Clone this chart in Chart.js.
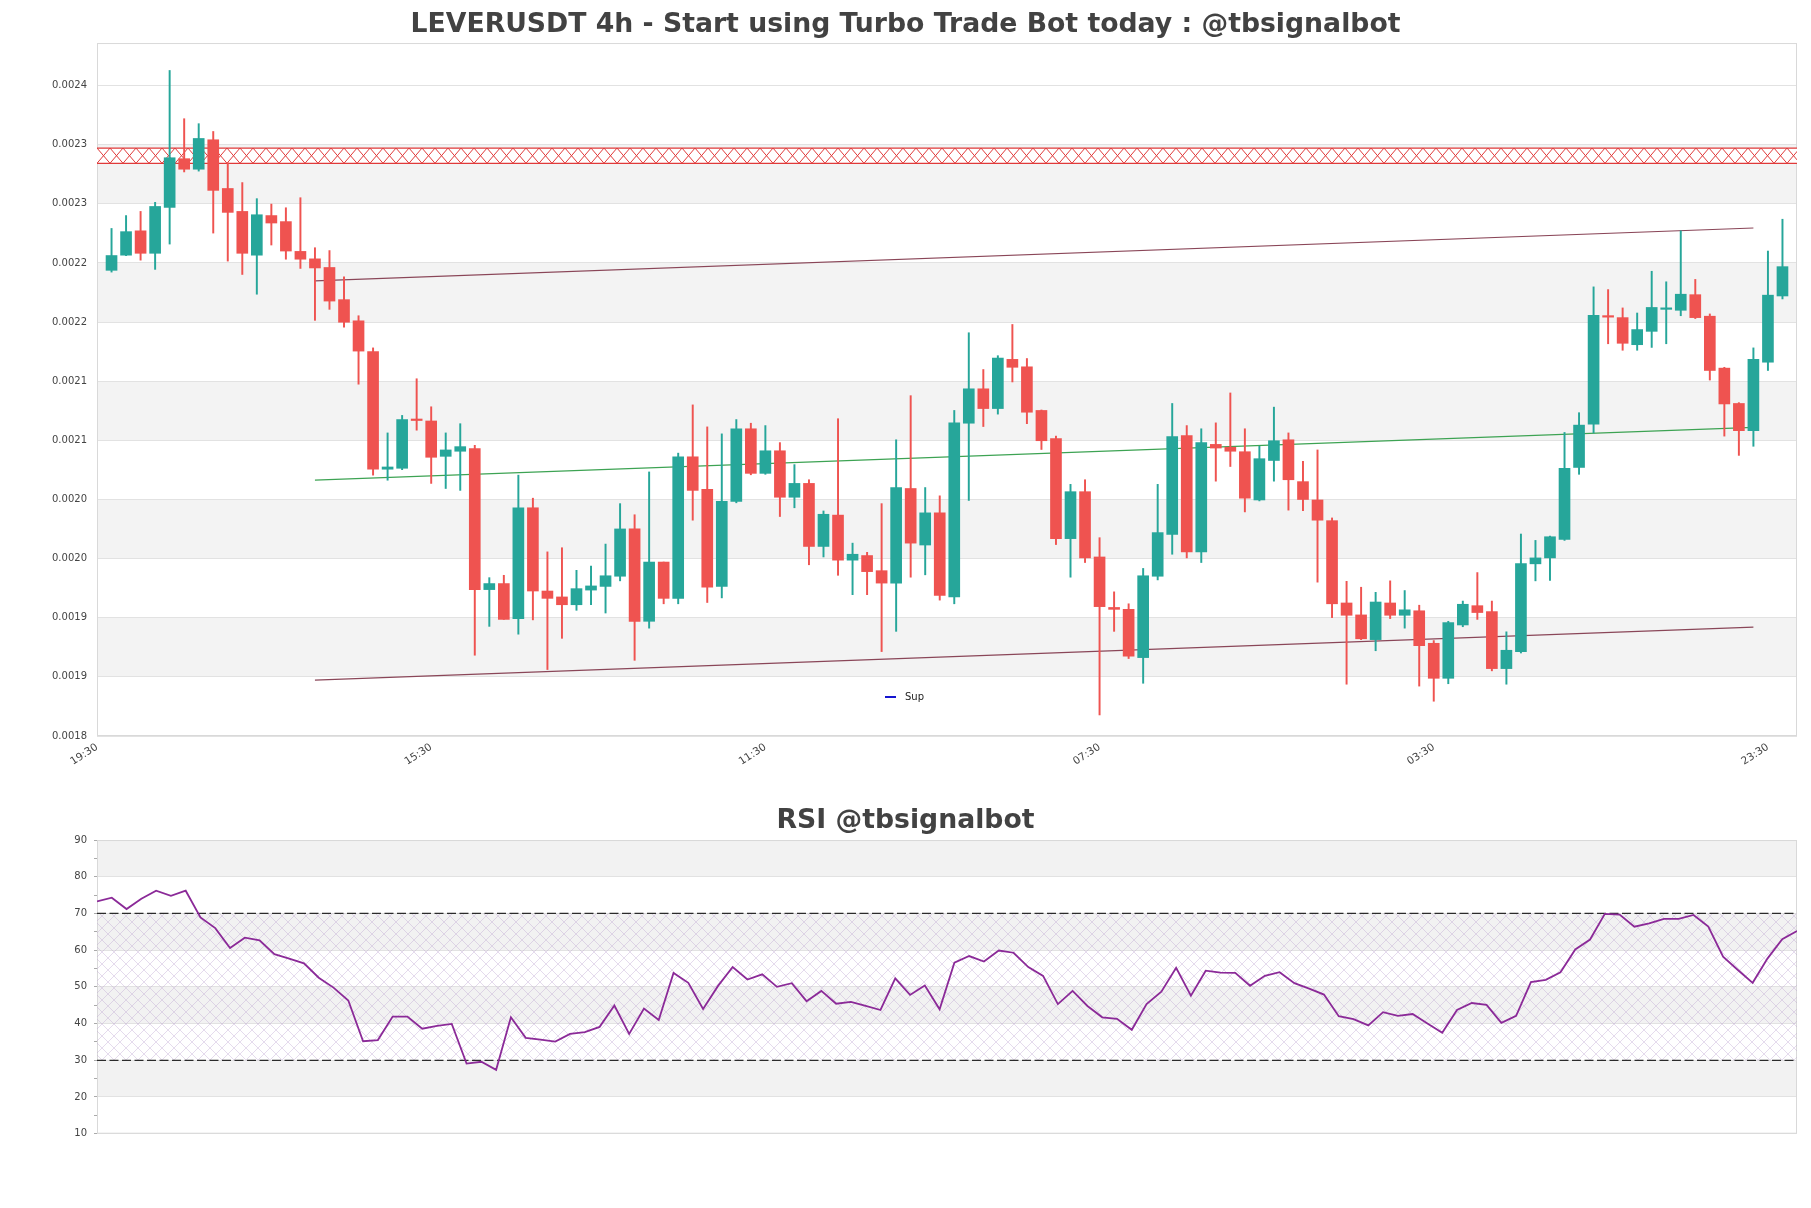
<!DOCTYPE html>
<html>
<head>
<meta charset="utf-8">
<script src="https://cdn.jsdelivr.net/npm/chart.js@4.4.1/dist/chart.umd.min.js"></script>
<style>
  html, body { margin: 0; padding: 0; background: #fff; }
  #wrap { position: relative; width: 1811px; height: 1208px; }
  #priceBox { position: absolute; left: 0; top: 0; width: 1811px; height: 790px; }
  #rsiBox { position: absolute; left: 0; top: 790px; width: 1811px; height: 418px; }
</style>
</head>
<body>
<div id="wrap">
  <div id="priceBox"><canvas id="priceChart"></canvas></div>
  <div id="rsiBox"><canvas id="rsiChart"></canvas></div>
</div>
<script>
// 4h candles
const opens = [
  0.0022438, 0.0022566, 0.0022772, 0.0022582, 0.0022970, 0.0023382, 0.0023293, 0.0023542, 0.0023130, 0.0022936,
  0.0022566, 0.0022901, 0.0022850, 0.0022598, 0.0022535, 0.0022462, 0.0022190, 0.0022011, 0.0021751, 0.0020756,
  0.0020764, 0.0021176, 0.0021164, 0.0020865, 0.0020908, 0.0020931, 0.0019738, 0.0019789, 0.0019493, 0.0020430,
  0.0019726, 0.0019676, 0.0019610, 0.0019734, 0.0019765, 0.0019851, 0.0020251, 0.0019470, 0.0019971, 0.0019664,
  0.0020861, 0.0020585, 0.0019765, 0.0020484, 0.0021098, 0.0020721, 0.0020912, 0.0020519, 0.0020636, 0.0020103,
  0.0020368, 0.0019987, 0.0020026, 0.0019898, 0.0019793, 0.0020593, 0.0020115, 0.0020387, 0.0019676, 0.0021145,
  0.0021436, 0.0021269, 0.0021685, 0.0021622, 0.0021253, 0.0021016, 0.0020169, 0.0020566, 0.0020014, 0.0019587,
  0.0019571, 0.0019163, 0.0019851, 0.0020204, 0.0021040, 0.0020057, 0.0020966, 0.0020942, 0.0020904, 0.0020496,
  0.0020830, 0.0021005, 0.0020651, 0.0020496, 0.0020321, 0.0019625, 0.0019524, 0.0019315, 0.0019625, 0.0019521,
  0.0019559, 0.0019284, 0.0018988, 0.0019439, 0.0019602, 0.0019552, 0.0019070, 0.0019214, 0.0019956, 0.0020006,
  0.0020162, 0.0020771, 0.0021137, 0.0022050, 0.0022038, 0.0021809, 0.0021922, 0.0022108, 0.0022100, 0.0022232,
  0.0022050, 0.0021611, 0.0021312, 0.0021082, 0.0021661, 0.0022221
];
const highs = [
  0.0022792, 0.0022901, 0.0022936, 0.0023013, 0.0024128, 0.0023720, 0.0023678, 0.0023612, 0.0023347, 0.0023180,
  0.0023044, 0.0022998, 0.0022967, 0.0023052, 0.0022629, 0.0022605, 0.0022384, 0.0022054, 0.0021782, 0.0021063,
  0.0021211, 0.0021521, 0.0021284, 0.0021063, 0.0021141, 0.0020958, 0.0019839, 0.0019859, 0.0020706, 0.0020511,
  0.0020057, 0.0020092, 0.0019901, 0.0019936, 0.0020123, 0.0020465, 0.0020371, 0.0020733, 0.0019971, 0.0020892,
  0.0021300, 0.0021114, 0.0021055, 0.0021176, 0.0021145, 0.0021125, 0.0020981, 0.0020795, 0.0020667, 0.0020403,
  0.0021183, 0.0020131, 0.0020053, 0.0020465, 0.0021005, 0.0021378, 0.0020601, 0.0020531, 0.0021253, 0.0021910,
  0.0021599, 0.0021716, 0.0021980, 0.0021692, 0.0021257, 0.0021036, 0.0020628, 0.0020667, 0.0020177, 0.0019719,
  0.0019618, 0.0019917, 0.0020628, 0.0021312, 0.0021125, 0.0021098, 0.0021148, 0.0021401, 0.0021098, 0.0020950,
  0.0021281, 0.0021063, 0.0020822, 0.0020919, 0.0020344, 0.0019808, 0.0019758, 0.0019715, 0.0019812, 0.0019730,
  0.0019606, 0.0019307, 0.0019470, 0.0019641, 0.0019882, 0.0019641, 0.0019381, 0.0020208, 0.0020154, 0.0020190,
  0.0021067, 0.0021234, 0.0022298, 0.0022275, 0.0022120, 0.0022077, 0.0022430, 0.0022341, 0.0022772, 0.0022361,
  0.0022069, 0.0021618, 0.0021319, 0.0021782, 0.0022601, 0.0022870
];
const lows = [
  0.0022423, 0.0022562, 0.0022524, 0.0022446, 0.0022660, 0.0023270, 0.0023277, 0.0022753, 0.0022516, 0.0022403,
  0.0022236, 0.0022652, 0.0022532, 0.0022454, 0.0022015, 0.0022108, 0.0021957, 0.0021475, 0.0020706, 0.0020663,
  0.0020752, 0.0021086, 0.0020636, 0.0020593, 0.0020577, 0.0019183, 0.0019427, 0.0019486, 0.0019361, 0.0019482,
  0.0019062, 0.0019326, 0.0019563, 0.0019610, 0.0019540, 0.0019812, 0.0019140, 0.0019412, 0.0019618, 0.0019618,
  0.0020325, 0.0019629, 0.0019668, 0.0020472, 0.0020709, 0.0020713, 0.0020356, 0.0020430, 0.0019948, 0.0020014,
  0.0019859, 0.0019695, 0.0019695, 0.0019214, 0.0019385, 0.0019843, 0.0019863, 0.0019649, 0.0019618, 0.0020492,
  0.0021117, 0.0021222, 0.0021494, 0.0021141, 0.0020923, 0.0020119, 0.0019843, 0.0019967, 0.0018678, 0.0019385,
  0.0019155, 0.0018946, 0.0019820, 0.0020037, 0.0020006, 0.0019967, 0.0020655, 0.0020779, 0.0020395, 0.0020488,
  0.0020655, 0.0020410, 0.0020406, 0.0019801, 0.0019501, 0.0018938, 0.0019315, 0.0019221, 0.0019493, 0.0019412,
  0.0018922, 0.0018794, 0.0018942, 0.0019424, 0.0019486, 0.0019051, 0.0018938, 0.0019202, 0.0019812, 0.0019816,
  0.0020154, 0.0020713, 0.0021063, 0.0021817, 0.0021762, 0.0021762, 0.0021786, 0.0021817, 0.0022054, 0.0022030,
  0.0021510, 0.0021036, 0.0020873, 0.0020950, 0.0021591, 0.0022196
];
const closes = [
  0.0022563, 0.0022765, 0.0022582, 0.0022978, 0.0023390, 0.0023293, 0.0023553, 0.0023114, 0.0022928, 0.0022582,
  0.0022908, 0.0022838, 0.0022601, 0.0022532, 0.0022458, 0.0022178, 0.0021999, 0.0021755, 0.0020756, 0.0020775,
  0.0021176, 0.0021168, 0.0020857, 0.0020919, 0.0020947, 0.0019738, 0.0019789, 0.0019486, 0.0020430, 0.0019726,
  0.0019664, 0.0019610, 0.0019746, 0.0019769, 0.0019855, 0.0020251, 0.0019470, 0.0019971, 0.0019664, 0.0020861,
  0.0020577, 0.0019758, 0.0020484, 0.0021098, 0.0020721, 0.0020912, 0.0020519, 0.0020636, 0.0020103, 0.0020375,
  0.0019987, 0.0020037, 0.0019890, 0.0019793, 0.0020601, 0.0020131, 0.0020387, 0.0019688, 0.0021148, 0.0021436,
  0.0021269, 0.0021696, 0.0021618, 0.0021238, 0.0020997, 0.0020169, 0.0020566, 0.0020006, 0.0019594, 0.0019571,
  0.0019175, 0.0019855, 0.0020220, 0.0021032, 0.0020057, 0.0020981, 0.0020935, 0.0020908, 0.0020511, 0.0020845,
  0.0020997, 0.0020667, 0.0020500, 0.0020325, 0.0019618, 0.0019521, 0.0019322, 0.0019633, 0.0019521, 0.0019567,
  0.0019264, 0.0018988, 0.0019459, 0.0019614, 0.0019544, 0.0019070, 0.0019225, 0.0019959, 0.0020006, 0.0020185,
  0.0020764, 0.0021129, 0.0022058, 0.0022042, 0.0021821, 0.0021937, 0.0022124, 0.0022116, 0.0022236, 0.0022038,
  0.0021591, 0.0021308, 0.0021082, 0.0021685, 0.0022228, 0.0022469
];

const xTickPos = [-1, 22, 45, 68, 91, 114];
const xTickLabels = ['19:30', '15:30', '11:30', '07:30', '03:30', '23:30'];
const yTicks = [0.00185, 0.0019, 0.00195, 0.002, 0.00205, 0.0021, 0.00215, 0.0022, 0.00225, 0.0023, 0.00235, 0.0024];
const yTickLabels = ['0.0018', '0.0019', '0.0019', '0.0020', '0.0020', '0.0021', '0.0021', '0.0022', '0.0022', '0.0023', '0.0023', '0.0024'];

// resistance zone and channel
const resistanceZone = [0.0023343, 0.0023472];
const channelX = [14, 113];
const upperLine = [0.0022349, 0.0022796];
const midLine = [0.0020663, 0.0021110];
const lowerLine = [0.0018973, 0.0019420];

const rsiValues = [
  73.3, 74.3, 71.2, 74.0, 76.2, 74.8, 76.2, 68.9, 66.0, 60.6,
  63.4, 62.7, 58.9, 57.7, 56.4, 52.5, 49.8, 46.3, 35.2, 35.5,
  41.9, 41.9, 38.6, 39.4, 39.9, 29.1, 29.6, 27.4, 41.7, 36.1,
  35.6, 35.1, 37.2, 37.7, 39.1, 44.9, 37.2, 44.1, 41.0, 53.8,
  51.1, 44.0, 50.2, 55.4, 52.0, 53.4, 50.0, 51.0, 46.1, 48.9,
  45.4, 45.9, 44.8, 43.7, 52.3, 47.8, 50.4, 43.9, 56.6, 58.4,
  56.9, 59.9, 59.3, 55.4, 53.0, 45.3, 48.9, 44.8, 41.7, 41.3,
  38.3, 45.3, 48.7, 55.2, 47.6, 54.4, 53.9, 53.8, 50.3, 53.0,
  54.0, 51.0, 49.5, 47.9, 42.0, 41.2, 39.5, 43.1, 42.1, 42.6,
  40.0, 37.5, 43.7, 45.6, 45.1, 40.2, 42.1, 51.3, 51.9, 54.0,
  60.2, 62.9, 69.9, 69.7, 66.4, 67.3, 68.5, 68.5, 69.6, 66.4,
  58.2, 54.6, 51.1, 57.7, 63.0, 65.2
];
const rsiLevels = [70, 30];
const rsiZone = [30, 70];

Chart.defaults.font.family = "'DejaVu Sans', sans-serif";
Chart.defaults.font.size = 10;
Chart.defaults.color = '#444';

const UP = '#26a69a';
const DOWN = '#ef5350';
const idx = opens.map((_, i) => i);
const candleColors = idx.map(i => closes[i] >= opens[i] ? UP : DOWN);

function hatch(size, color, width) {
  const c = document.createElement('canvas');
  c.width = size; c.height = size;
  const g = c.getContext('2d');
  g.strokeStyle = color;
  g.lineWidth = width;
  g.beginPath();
  g.moveTo(0, 0); g.lineTo(size, size);
  g.moveTo(size, 0); g.lineTo(0, size);
  g.stroke();
  return g.createPattern(c, 'repeat');
}

// grey bands every other step, drawn behind the grid
function bandPlugin(id, bands, color) {
  return {
    id: id,
    beforeDraw(chart) {
      const { ctx, chartArea: a, scales: { y } } = chart;
      ctx.save();
      ctx.fillStyle = '#fff';
      ctx.fillRect(0, 0, chart.width, chart.height);
      ctx.fillStyle = color;
      bands.forEach(b => {
        const t = y.getPixelForValue(b[1]);
        const btm = y.getPixelForValue(b[0]);
        ctx.fillRect(a.left, t, a.right - a.left, btm - t);
      });
      ctx.restore();
    }
  };
}

const frame = {
  id: 'frame',
  beforeDatasetsDraw(chart) {
    const { ctx, chartArea: a } = chart;
    ctx.save();
    ctx.strokeStyle = '#d9d9d9';
    ctx.lineWidth = 1;
    ctx.strokeRect(a.left + 0.5, a.top + 0.5, a.right - a.left - 1, a.bottom - a.top - 1);
    ctx.restore();
  }
};

const zoneHatch = {
  id: 'zoneHatch',
  beforeDatasetsDraw(chart) {
    const { ctx, chartArea: a, scales: { y } } = chart;
    const top = y.getPixelForValue(resistanceZone[1]);
    const bot = y.getPixelForValue(resistanceZone[0]);
    const step = 13;
    ctx.save();
    ctx.beginPath();
    ctx.rect(a.left, top, a.right - a.left, bot - top);
    ctx.clip();
    ctx.fillStyle = '#fff';
    ctx.fillRect(a.left, top, a.right - a.left, bot - top);
    ctx.strokeStyle = '#e03a3a';
    ctx.lineWidth = 1;
    ctx.beginPath();
    for (let x = a.left; x < a.right + step; x += step) {
      ctx.moveTo(x, top); ctx.lineTo(x + step, bot);
      ctx.moveTo(x, bot); ctx.lineTo(x + step, top);
    }
    ctx.stroke();
    ctx.restore();
    ctx.save();
    ctx.strokeStyle = '#e03a3a';
    ctx.lineWidth = 1.2;
    ctx.beginPath();
    ctx.moveTo(a.left, top); ctx.lineTo(a.right, top);
    ctx.moveTo(a.left, bot); ctx.lineTo(a.right, bot);
    ctx.stroke();
    ctx.restore();
  }
};

const supLegend = {
  id: 'supLegend',
  afterDraw(chart) {
    const ds = chart.data.datasets.find(d => d.label === 'Sup');
    const { ctx, chartArea: a } = chart;
    const x = a.left + 788, y = a.bottom - 39;
    ctx.save();
    ctx.strokeStyle = ds.borderColor;
    ctx.lineWidth = 2;
    ctx.beginPath();
    ctx.moveTo(x, y); ctx.lineTo(x + 11, y);
    ctx.stroke();
    ctx.fillStyle = '#222';
    ctx.font = "10px 'DejaVu Sans'";
    ctx.textBaseline = 'middle';
    ctx.fillText(ds.label, x + 20, y);
    ctx.restore();
  }
};

function channel(vals, color) {
  return {
    type: 'line',
    data: [{ x: channelX[0], y: vals[0] }, { x: channelX[1], y: vals[1] }],
    borderColor: color,
    borderWidth: 1.2,
    pointRadius: 0,
    fill: false,
    order: 2
  };
}

new Chart(document.getElementById('priceChart'), {
  type: 'bar',
  data: {
    datasets: [
      {
        label: 'body',
        data: idx.map(i => ({ x: i, y: [opens[i], closes[i]] })),
        backgroundColor: candleColors,
        barThickness: 11,
        minBarLength: 1.5,
        grouped: false,
        order: 0
      },
      {
        label: 'wick',
        data: idx.map(i => ({ x: i, y: [lows[i], highs[i]] })),
        backgroundColor: candleColors,
        barThickness: 1.3,
        grouped: false,
        order: 1
      },
      channel(upperLine, '#8a4658'),
      channel(midLine, '#3da353'),
      channel(lowerLine, '#8a4658'),
      { type: 'line', label: 'Sup', data: [], borderColor: '#1515d0', pointRadius: 0, order: 3 }
    ]
  },
  options: {
    responsive: true,
    maintainAspectRatio: false,
    animation: false,
    devicePixelRatio: 1,
    layout: { padding: { left: 14, right: 14, top: 0, bottom: 0 } },
    plugins: {
      legend: { display: false },
      tooltip: { enabled: false },
      title: {
        display: true,
        text: 'LEVERUSDT 4h - Start using Turbo Trade Bot today : @tbsignalbot',
        color: '#424242',
        font: { size: 26.7, weight: 'bold' },
        padding: { top: 9, bottom: 2 }
      }
    },
    scales: {
      x: {
        type: 'linear',
        min: -1,
        max: 116,
        offset: false,
        grid: { display: false, drawTicks: false },
        border: { display: false },
        afterBuildTicks: axis => { axis.ticks = xTickPos.map(v => ({ value: v })); },
        afterFit: scale => { scale.height = 54; },
        ticks: {
          autoSkip: false,
          minRotation: 33,
          maxRotation: 33,
          padding: 5,
          color: '#444',
          font: { size: 10.5 },
          callback: (v, i) => xTickLabels[i]
        }
      },
      y: {
        type: 'linear',
        min: 0.00185,
        max: 0.002436,
        beginAtZero: false,
        grid: { color: '#e2e2e2', drawTicks: false },
        border: { display: false },
        afterBuildTicks: axis => { axis.ticks = yTicks.map(v => ({ value: v })); },
        afterFit: scale => { scale.width = 83; },
        ticks: {
          autoSkip: false,
          padding: 10,
          color: '#444',
          callback: (v, i) => yTickLabels[i]
        }
      }
    }
  },
  plugins: [
    bandPlugin('priceBands', [[0.0019, 0.00195], [0.002, 0.00205], [0.0021, 0.00215], [0.0022, 0.00225], [0.0023, 0.00235]], '#f3f3f3'),
    frame, zoneHatch, supLegend
  ]
});

const rsiHatch = {
  id: 'rsiHatch',
  beforeDatasetsDraw(chart) {
    const { ctx, chartArea: a, scales: { y } } = chart;
    const top = y.getPixelForValue(rsiZone[1]);
    const bot = y.getPixelForValue(rsiZone[0]);
    ctx.save();
    ctx.fillStyle = hatch(12, 'rgba(190, 165, 210, 0.5)', 0.8);
    ctx.fillRect(a.left, top, a.right - a.left, bot - top);
    ctx.restore();
  }
};

new Chart(document.getElementById('rsiChart'), {
  type: 'line',
  data: {
    datasets: [
      {
        label: 'RSI',
        data: rsiValues.map((v, i) => ({ x: i, y: v })),
        borderColor: '#8b2a98',
        borderWidth: 1.8,
        pointRadius: 0,
        tension: 0,
        fill: false
      },
      ...rsiLevels.map(l => ({
        label: 'level ' + l,
        data: [{ x: 0, y: l }, { x: rsiValues.length - 1, y: l }],
        borderColor: '#2b2b2b',
        borderWidth: 1.2,
        borderDash: [9, 3.5],
        pointRadius: 0,
        fill: false
      }))
    ]
  },
  options: {
    responsive: true,
    maintainAspectRatio: false,
    animation: false,
    devicePixelRatio: 1,
    layout: { padding: { left: 14, right: 14, top: 0, bottom: 74.3 } },
    plugins: {
      legend: { display: false },
      tooltip: { enabled: false },
      title: {
        display: true,
        text: 'RSI @tbsignalbot',
        color: '#424242',
        font: { size: 26.7, weight: 'bold' },
        padding: { top: 15.2, bottom: 2.8 }
      }
    },
    scales: {
      x: { type: 'linear', min: 0, max: rsiValues.length - 1, display: false },
      y: {
        min: 10,
        max: 90,
        grid: {
          color: ctx => ctx.tick && ctx.tick.value % 10 === 0 ? '#e2e2e2' : 'rgba(0,0,0,0)',
          tickColor: '#aaa',
          tickLength: 3
        },
        border: { display: false },
        afterFit: scale => { scale.width = 83; },
        ticks: {
          stepSize: 5,
          autoSkip: false,
          padding: 7,
          color: '#444',
          callback: v => v % 10 === 0 ? String(v) : ''
        }
      }
    }
  },
  plugins: [
    bandPlugin('rsiBands', [[80, 90], [60, 70], [40, 50], [20, 30]], '#f2f2f2'),
    frame, rsiHatch
  ]
});
</script>
</body>
</html>
